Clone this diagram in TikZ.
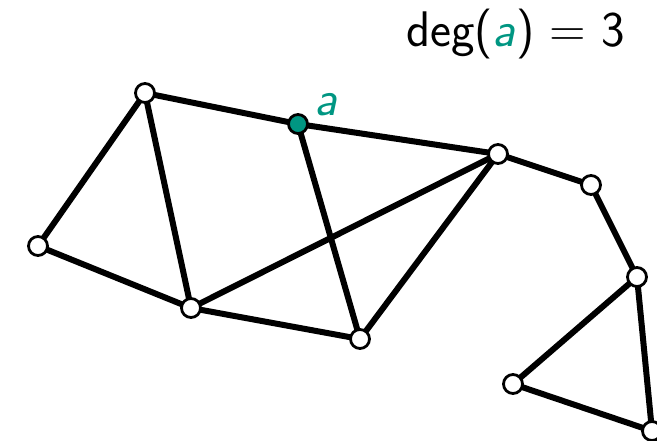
\documentclass[tikz,border=0pt]{standalone}
\usepackage{tikz}
\usetikzlibrary{positioning,backgrounds}
\definecolor{tealish}{RGB}{0,150,130}

\begin{document}
\begin{tikzpicture}[x=0.5pt, y=-0.5pt,
    vtx/.style={circle, draw, fill=white, line width=1.4pt, inner sep=0pt, minimum size=9.5pt},
    edge/.style={line width=3pt},
    lbl/.style={font=\sffamily\fontsize{25}{30}\selectfont}
]
    \useasboundingbox (0,0) rectangle (657,440);

    % vertices
    \node[vtx] (A) at (145,93) {};
    \node[vtx, fill=tealish] (a) at (298,124) {};
    \node[vtx] (B) at (498,154) {};
    \node[vtx] (C) at (591,185) {};
    \node[vtx] (D) at (637,277) {};
    \node[vtx] (E) at (652,431) {};
    \node[vtx] (F) at (513,384) {};
    \node[vtx] (G) at (360,339) {};
    \node[vtx] (H) at (191,308) {};
    \node[vtx] (I) at (38,246) {};

    % edges
    \begin{scope}[on background layer]
    \foreach \u/\v in {A/a, a/B, B/C, C/D, D/E, D/F, F/E, A/I, I/H, A/H, H/G, H/B, a/G, B/G}
        \draw[edge] (\u.center) -- (\v.center);
    \end{scope}

    \node[lbl, text=tealish, anchor=base west, inner sep=0pt] (alabel) at (314,115) {\textsl{a}};
    \node[lbl, anchor=base east, inner sep=0pt] (deg) at (625,46)
        {deg(\textcolor{tealish}{\textsl{a}})\hspace{0.3em}=\hspace{0.3em}3};
\end{tikzpicture}
\end{document}
